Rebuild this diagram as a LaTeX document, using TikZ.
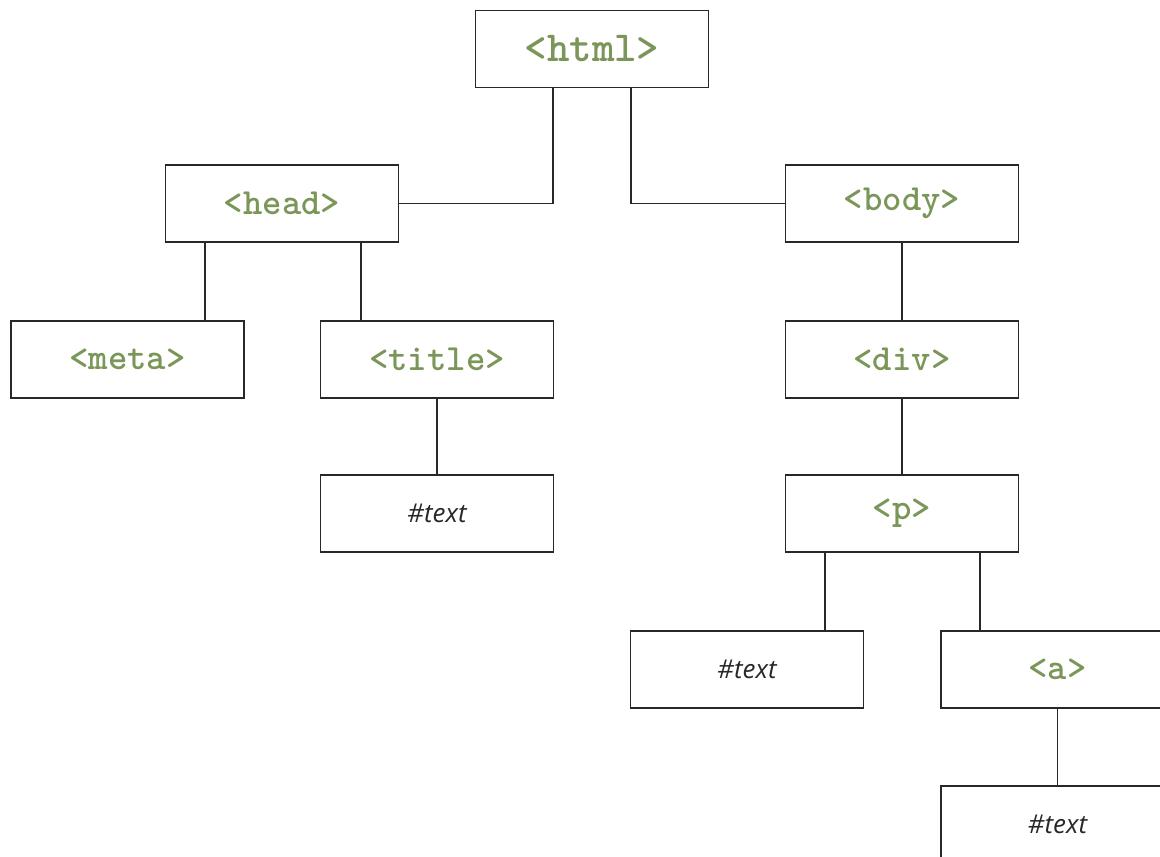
\documentclass[tikz,border=0pt]{standalone}
\usepackage{fontspec}
\newfontfamily\txtfont{Open Sans}
\definecolor{taggreen}{RGB}{122,150,88}
\definecolor{linegray}{RGB}{40,40,40}
\begin{document}
\begin{tikzpicture}[x=1bp,y=-1bp,
  box/.style={draw=linegray,line width=1.8bp,rectangle,minimum width=233bp,minimum height=77bp,inner sep=0pt,fill=white},
  tag/.style={box,font=\ttfamily\bfseries\fontsize{37}{37}\selectfont,text=taggreen},
  txt/.style={box,font=\txtfont\itshape\fontsize{26}{26}\selectfont,text=linegray},
  conn/.style={draw=linegray,line width=1.8bp}]
\useasboundingbox (0,0) rectangle (1160,857);
\node[tag,font=\ttfamily\bfseries\fontsize{43}{43}\selectfont] (html) at (592,49) {<html>};
\node[tag] (head) at (282,203.5) {<head>};
\node[tag] (body) at (902,203.5) {<body>};
\node[tag] (meta) at (127.5,359.5) {<meta>};
\node[tag] (title) at (437,359.5) {<title>};
\node[txt] (t1) at (437,513.5) {\#text};
\node[tag] (div) at (902,359.5) {<div>};
\node[tag] (p) at (902,513.5) {<p>};
\node[txt] (t2) at (747,669.5) {\#text};
\node[tag] (a) at (1057.5,669.5) {<a>};
\node[txt] (t3) at (1057.5,824.5) {\#text};
\draw[conn] ([xshift=-39bp]html.south) |- (head.east);
\draw[conn] ([xshift=39bp]html.south) |- (body.west);
\draw[conn] ([xshift=-77bp]head.south) -- ([xshift=-77bp]head.south |- meta.north);
\draw[conn] ([xshift=79bp]head.south) -- ([xshift=79bp]head.south |- title.north);
\draw[conn] (title) -- (t1);
\draw[conn] (body) -- (div);
\draw[conn] (div) -- (p);
\draw[conn] ([xshift=-77bp]p.south) -- ([xshift=-77bp]p.south |- t2.north);
\draw[conn] ([xshift=78bp]p.south) -- ([xshift=78bp]p.south |- a.north);
\draw[conn] (a) -- (t3);
\end{tikzpicture}
\end{document}
